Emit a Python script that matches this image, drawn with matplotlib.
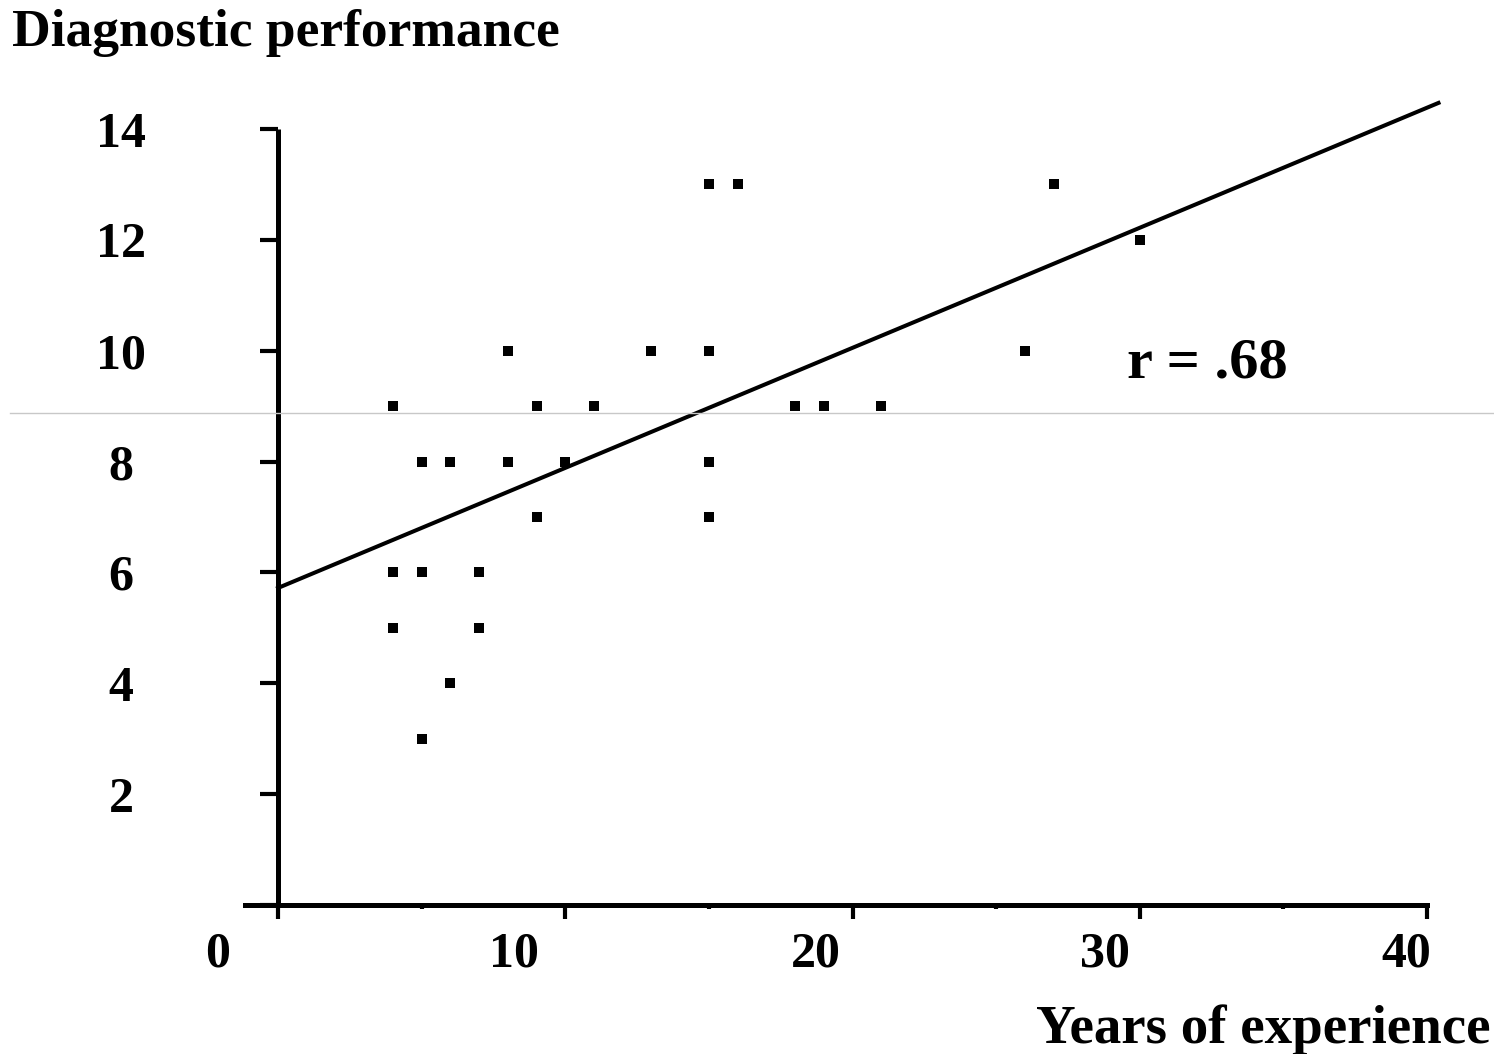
import matplotlib
matplotlib.use("Agg")
import matplotlib.pyplot as plt
import matplotlib.transforms as mtransforms
from matplotlib.lines import Line2D

# years of experience vs diagnostic performance score
years = [4, 5, 6, 4, 5, 7, 4, 7, 6, 5,
         8, 9, 8, 10, 9, 11, 13, 15, 15, 16,
         15, 15, 18, 19, 21, 26, 27, 30]
scores = [9, 8, 8, 6, 6, 6, 5, 5, 4, 3,
          10, 9, 8, 8, 7, 9, 10, 10, 13, 13,
          8, 7, 9, 9, 9, 10, 13, 12]

# fitted line
intercept = 5.72
slope = 0.2166
line_x = [0, 40.4]
r_text = "r = .68"

x_ticks = [0, 10, 20, 30, 40]
x_minor = [5, 15, 25, 35]
y_ticks = [2, 4, 6, 8, 10, 12, 14]

plt.rcParams['font.family'] = ['Liberation Serif', 'DejaVu Serif']
plt.rcParams['font.weight'] = 'bold'

fig = plt.figure(figsize=(14.94, 10.54), dpi=100)
W, H = 1494, 1054
ax = fig.add_axes([245 / W, 1 - 905 / H, (1427 - 245) / W, (905 - 129) / H])
ax.set_xlim(-1.15, 40)
ax.set_ylim(0, 14)

for s in ['top', 'right']:
    ax.spines[s].set_visible(False)
ax.spines['left'].set_position(('data', 0))
ax.spines['left'].set_linewidth(3.6)
ax.spines['bottom'].set_linewidth(3.6)
ax.spines['left'].set_capstyle('butt')

ax.scatter(years, scores, marker='s', s=48, color='black', linewidths=0, zorder=3)
ax.plot(line_x, [intercept + slope * x for x in line_x], color='black', lw=2.9,
        clip_on=False, zorder=2)

ax.set_xticks(x_ticks)
ax.set_xticks(x_minor, minor=True)
ax.set_xticklabels([str(t) for t in x_ticks], fontsize=36, fontweight='bold')
ax.tick_params(axis='x', which='major', direction='out', length=10, width=3, pad=9)
ax.tick_params(axis='x', which='minor', direction='out', length=3, width=3)

ax.set_yticks([0] + y_ticks)
ax.set_yticklabels([''] + [str(t) for t in y_ticks], fontsize=36, fontweight='bold')
ax.tick_params(axis='y', direction='out', length=13, width=3, pad=100)
for lab in ax.get_yticklabels():
    lab.set_horizontalalignment('center')

# x labels sit left of their ticks by varying amounts
x_shift = [-60, -51, -37, -35, -21]
for lab, dx in zip(ax.get_xticklabels(), x_shift):
    lab.set_transform(lab.get_transform() + mtransforms.ScaledTranslation(dx / 100, 0, fig.dpi_scale_trans))

fig.text(12 / W, 1 - 46 / H, "Diagnostic performance", fontsize=38.5, fontweight='bold',
         ha='left', va='baseline')
fig.text(1490 / W, 1 - 1043 / H, "Years of experience", fontsize=39.5, fontweight='bold',
         ha='right', va='baseline')
ax.text(1127 / W, 1 - 378 / H, r_text, transform=fig.transFigure, fontsize=42,
        fontweight='bold', ha='left', va='baseline')

# faint scan line across the picture
fig.add_artist(Line2D([10 / W, 1], [1 - 413 / H, 1 - 413 / H], color='#c8c8c8', lw=1))

fig.savefig('out.png', dpi=100, facecolor='white')
